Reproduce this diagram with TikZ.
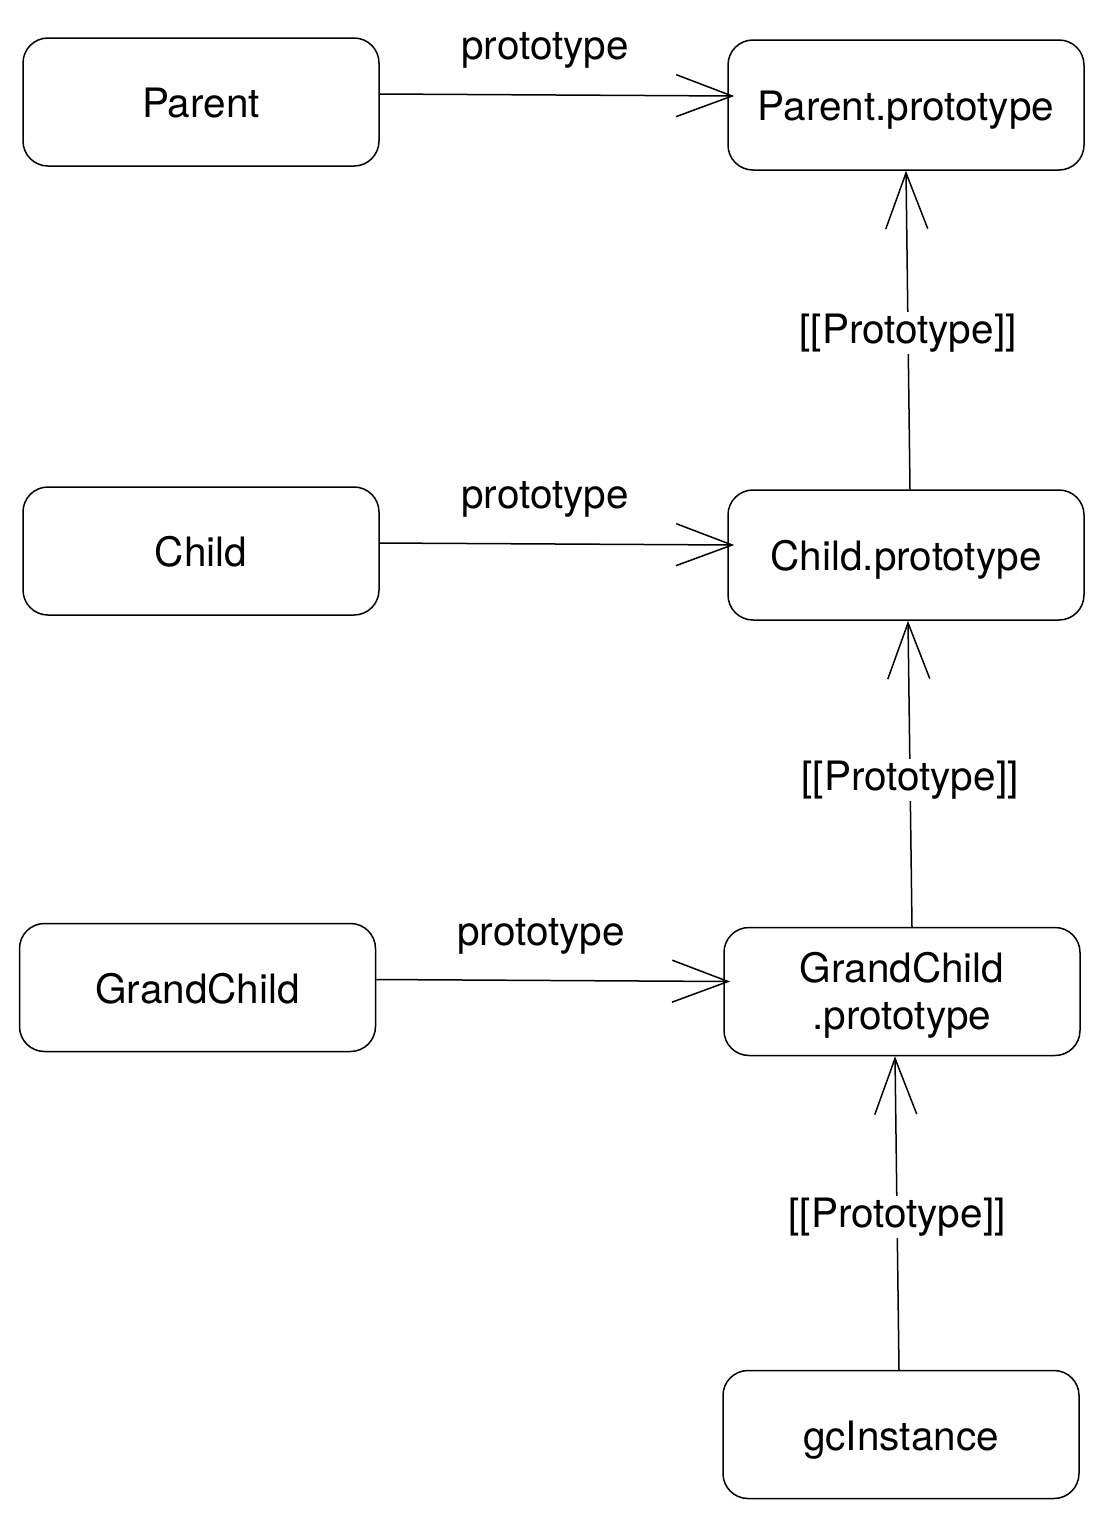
\documentclass[tikz,border=0pt]{standalone}
\usepackage{fontspec}
\setmainfont{TeX Gyre Heros}
\usetikzlibrary{arrows.meta,calc}
\begin{document}
\begin{tikzpicture}[x=1pt,y=-1pt,
  box/.style={draw, line width=1.5pt, rounded corners=25pt, minimum width=356pt, minimum height=128pt, align=center, font=\fontsize{40.5}{43}\selectfont, inner sep=0pt},
  one/.style={text height=31pt, text depth=0pt},
  link/.style={line width=1.5pt, -{Straight Barb[length=56pt, width=42pt, line width=1.5pt]}},
  lbl/.style={font=\fontsize{40.5}{43}\selectfont, inner sep=2pt},
  vlbl/.style={font=\fontsize{40.5}{43}\selectfont, fill=white, inner sep=2pt}]
\useasboundingbox (0,0) rectangle (1104,1519);
\node[box, one] (P) at (201,102) {Parent};
\node[box, one, minimum height=130pt] (PP) at (906,105) {Parent.prototype};
\node[box, one] (C) at (201,551) {Child};
\node[box, one, minimum height=130pt] (CP) at (906,555) {Child.prototype};
\node[box, one] (G) at (197.5,987.5) {GrandChild};
\node[box] (GP) at (902,991.5) {\raisebox{-6pt}[\height][\depth]{\begin{tabular}{@{}c@{}}GrandChild\\[4pt].prototype\end{tabular}}};
\node[box, one] (I) at (901,1434.5) {gcInstance};

\draw[link] ($(P.east)+(0,-8)$) -- ($(PP.west)+(7,-9)$);
\draw[link] ($(C.east)+(0,-8)$) -- ($(CP.west)+(7,-10)$);
\draw[link] ($(G.east)+(0,-8)$) -- ($(GP.west)+(7,-10)$);

\node[lbl] (l1) at (545,50) {prototype};
\node[lbl] (l2) at (545,499) {prototype};
\node[lbl] (l3) at (541,936) {prototype};

\draw[link] ($(CP.north)+(4,0)$) -- node[vlbl, yshift=-3pt] (v1) {[[Prototype]]} ($(PP.south)+(0,0)$);
\draw[link] ($(GP.north)+(10,0)$) -- node[vlbl, yshift=-6pt] (v2) {[[Prototype]]} ($(CP.south)+(2,0)$);
\draw[link] ($(I.north)+(-2,0)$) -- node[vlbl, pos=0.5, yshift=-4pt] (v3) {[[Prototype]]} ($(GP.south)+(-7,0)$);
\end{tikzpicture}
\end{document}
